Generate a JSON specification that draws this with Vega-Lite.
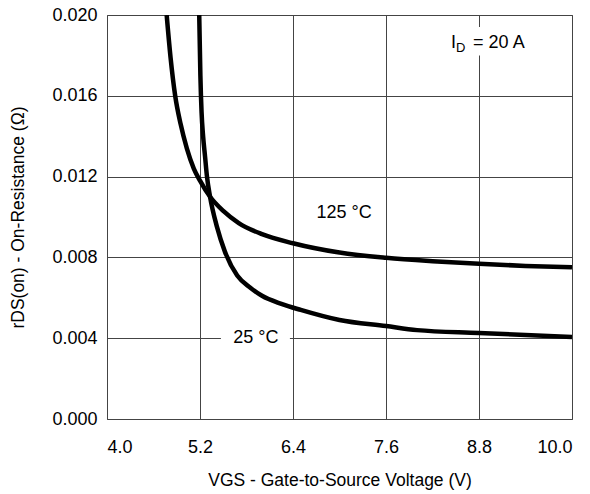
{
  "$schema": "https://vega.github.io/schema/vega-lite/v6.json",
  "width": 465,
  "height": 404,
  "autosize": {"type": "none"},
  "padding": {"left": 107, "top": 15, "right": 18, "bottom": 75},
  "background": "white",
  "config": {
    "view": {"stroke": "#555555", "strokeWidth": 1},
    "font": "Liberation Sans",
    "axis": {
      "labelFont": "Liberation Sans",
      "titleFont": "Liberation Sans",
      "labelFontSize": 18,
      "titleFontSize": 17.5,
      "labelColor": "#000000",
      "titleColor": "#000000",
      "titleFontWeight": "normal",
      "ticks": false,
      "domain": false,
      "grid": true,
      "gridColor": "#444444",
      "gridWidth": 1,
      "gridOpacity": 1
    }
  },
  "datasets": {
    "curves": [
      {"v": 4.77, "r": 0.0200, "t": "125 °C"},
      {"v": 4.82, "r": 0.0179, "t": "125 °C"},
      {"v": 4.88, "r": 0.0160, "t": "125 °C"},
      {"v": 4.95, "r": 0.0146, "t": "125 °C"},
      {"v": 5.03, "r": 0.0134, "t": "125 °C"},
      {"v": 5.12, "r": 0.0124, "t": "125 °C"},
      {"v": 5.20, "r": 0.0118, "t": "125 °C"},
      {"v": 5.33, "r": 0.0110, "t": "125 °C"},
      {"v": 5.50, "r": 0.0103, "t": "125 °C"},
      {"v": 5.70, "r": 0.0097, "t": "125 °C"},
      {"v": 6.00, "r": 0.00915, "t": "125 °C"},
      {"v": 6.40, "r": 0.0087, "t": "125 °C"},
      {"v": 7.00, "r": 0.00824, "t": "125 °C"},
      {"v": 7.60, "r": 0.00798, "t": "125 °C"},
      {"v": 8.20, "r": 0.00781, "t": "125 °C"},
      {"v": 8.80, "r": 0.00768, "t": "125 °C"},
      {"v": 9.40, "r": 0.00758, "t": "125 °C"},
      {"v": 10.0, "r": 0.00751, "t": "125 °C"},
      {"v": 5.19, "r": 0.0200, "t": "25 °C"},
      {"v": 5.205, "r": 0.0170, "t": "25 °C"},
      {"v": 5.22, "r": 0.0152, "t": "25 °C"},
      {"v": 5.24, "r": 0.0140, "t": "25 °C"},
      {"v": 5.265, "r": 0.0130, "t": "25 °C"},
      {"v": 5.29, "r": 0.0120, "t": "25 °C"},
      {"v": 5.33, "r": 0.0110, "t": "25 °C"},
      {"v": 5.42, "r": 0.0095, "t": "25 °C"},
      {"v": 5.52, "r": 0.0083, "t": "25 °C"},
      {"v": 5.68, "r": 0.0071, "t": "25 °C"},
      {"v": 5.85, "r": 0.0065, "t": "25 °C"},
      {"v": 6.00, "r": 0.0061, "t": "25 °C"},
      {"v": 6.25, "r": 0.0057, "t": "25 °C"},
      {"v": 6.50, "r": 0.0054, "t": "25 °C"},
      {"v": 7.00, "r": 0.0049, "t": "25 °C"},
      {"v": 7.60, "r": 0.0046, "t": "25 °C"},
      {"v": 8.00, "r": 0.0044, "t": "25 °C"},
      {"v": 8.80, "r": 0.00426, "t": "25 °C"},
      {"v": 10.0, "r": 0.00406, "t": "25 °C"}
    ],
    "boxes": [
      {"x": 5.47, "x2": 6.36, "y": 0.0036, "y2": 0.0044},
      {"x": 8.45, "x2": 9.45, "y": 0.0180, "y2": 0.0194}
    ],
    "labels": [
      {"x": 5.92, "y": 0.0040, "t": "25 °C"},
      {"x": 7.06, "y": 0.0102, "t": "125 °C"}
    ],
    "cond": [
      {"x": 8.44, "y": 0.0186}
    ]
  },
  "layer": [
    {
      "data": {"name": "boxes"},
      "mark": {"type": "rect", "fill": "white", "stroke": null},
      "encoding": {
        "x": {"field": "x", "type": "quantitative", "scale": {"domain": [4, 10]},
              "axis": {"values": [4.0, 5.2, 6.4, 7.6, 8.8, 10.0], "format": ".1f", "labelPadding": 19,
                       "title": "VGS - Gate-to-Source Voltage (V)", "titlePadding": 15}},
        "x2": {"field": "x2"},
        "y": {"field": "y", "type": "quantitative", "scale": {"domain": [0, 0.02]},
              "axis": {"values": [0, 0.004, 0.008, 0.012, 0.016, 0.02], "format": ".3f", "labelPadding": 10,
                       "title": "rDS(on) - On-Resistance (Ω)", "titlePadding": 24}},
        "y2": {"field": "y2"}
      }
    },
    {
      "data": {"name": "curves"},
      "mark": {"type": "line", "color": "black", "strokeWidth": 4.5, "interpolate": "monotone", "clip": true},
      "encoding": {
        "x": {"field": "v", "type": "quantitative"},
        "y": {"field": "r", "type": "quantitative"},
        "detail": {"field": "t"}
      }
    },
    {
      "data": {"name": "labels"},
      "mark": {"type": "text", "fontSize": 18, "color": "black", "align": "center", "baseline": "middle", "font": "Liberation Sans"},
      "encoding": {
        "x": {"field": "x", "type": "quantitative"},
        "y": {"field": "y", "type": "quantitative"},
        "text": {"field": "t"}
      }
    },
    {
      "data": {"name": "cond"},
      "mark": {"type": "text", "text": "I", "fontSize": 18, "color": "black", "align": "left", "baseline": "middle", "font": "Liberation Sans"},
      "encoding": {
        "x": {"field": "x", "type": "quantitative"},
        "y": {"field": "y", "type": "quantitative"}
      }
    },
    {
      "data": {"name": "cond"},
      "mark": {"type": "text", "text": "D", "fontSize": 13, "dx": 5, "dy": 5, "color": "black", "align": "left", "baseline": "middle", "font": "Liberation Sans"},
      "encoding": {
        "x": {"field": "x", "type": "quantitative"},
        "y": {"field": "y", "type": "quantitative"}
      }
    },
    {
      "data": {"name": "cond"},
      "mark": {"type": "text", "text": "= 20 A", "fontSize": 18, "dx": 22, "color": "black", "align": "left", "baseline": "middle", "font": "Liberation Sans"},
      "encoding": {
        "x": {"field": "x", "type": "quantitative"},
        "y": {"field": "y", "type": "quantitative"}
      }
    }
  ]
}
